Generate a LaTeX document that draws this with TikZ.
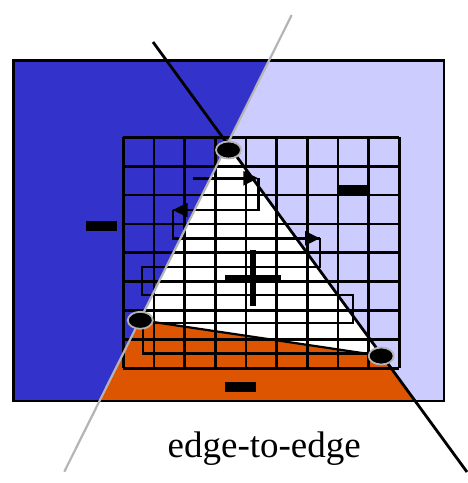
\documentclass[tikz,border=0pt]{standalone}
\usepackage{fontspec}
\setmainfont{Liberation Serif}
\usetikzlibrary{arrows.meta,shapes.geometric}
\definecolor{darkblue}{HTML}{3333CC}
\definecolor{lightblue}{HTML}{CCCCFF}
\definecolor{orng}{HTML}{DD5500}
\definecolor{vgray}{HTML}{B4B4B4}
\begin{document}
\begin{tikzpicture}[x=1pt,y=-1pt,
  gridline/.style={line width=2.8pt,black},
  traverse/.style={line width=2.4pt,black},
  arrowed/.style={traverse,-{Triangle[length=15pt,width=14pt]}},
  bar/.style={fill=black},
  vmark/.style={ellipse,fill=black,draw=vgray,line width=1.8pt,minimum width=25pt,minimum height=17pt,inner sep=0pt},
  label/.style={font=\fontsize{37}{40}\selectfont,anchor=base}]
\useasboundingbox (0,0) rectangle (468,483);
% key points
\coordinate (G1) at (291.7,15);
\coordinate (G2) at (64.3,471.7);
\coordinate (B1) at (153,42);
\coordinate (B2) at (467,472);
\coordinate (T) at (227.6,144.1);
\coordinate (L) at (139.8,320);
\coordinate (R) at (382.3,356);
% regions
\fill[lightblue] (13.3,60.7) rectangle (444,401);
\fill[darkblue] (13.3,60.7) -- (268.9,60.7) -- (99.5,401) -- (13.3,401) -- cycle;
\fill[white] (T) -- (R) -- (L) -- cycle;
\fill[orng] (L) -- (R) -- (415.2,401) -- (99.5,401) -- cycle;
% grid
\foreach \i in {0,...,9}
  \draw[gridline] ({123.3+30.667*\i},137.3) -- ({123.3+30.667*\i},368.3);
\foreach \j in {0,...,8}
  \draw[gridline] (123.3,{137.3+28.875*\j}) -- (399.3,{137.3+28.875*\j});
% outer frame
\draw[line width=2.8pt] (13.3,60.7) rectangle (444,401);
% signs
\fill[bar] (86,221) rectangle (117,231);
\fill[bar] (338,185) rectangle (369,195);
\fill[bar] (225,382) rectangle (256,392);
\fill[bar] (225,274.5) rectangle (281,282);
\fill[bar] (249.5,249.5) rectangle (256,305.5);
% traversal path
\coordinate (P0) at (193.3,178.3);
\coordinate (P1) at (258.3,178.3);
\coordinate (P2) at (258.3,210);
\coordinate (P3) at (172.7,210);
\coordinate (P4) at (172.7,238.3);
\coordinate (P5) at (320,238.3);
\coordinate (P6) at (320,266.7);
\coordinate (P7) at (141.7,266.7);
\coordinate (P8) at (141.7,295);
\coordinate (P9) at (352.7,295);
\coordinate (P10) at (352.7,323);
\coordinate (P11) at (143,323);
\coordinate (P12) at (143,353.3);
\coordinate (P13) at (372,353.3);
\draw[arrowed] (P0) -- (P1);
\draw[traverse] (P1) -- (P2) -- (P3);
\draw[arrowed] (P2) -- (P3);
\draw[traverse] (P3) -- (P4) -- (P5);
\draw[arrowed] (P4) -- (P5);
\draw[traverse,line join=miter] (P5) -- (P6) -- (P7) -- (P8) -- (P9) -- (P10) -- (P11) -- (P12) -- (P13);
% edge lines
\draw[vgray,line width=2.2pt] (G1) -- (G2);
\draw[black,line width=2.8pt] (B1) -- (B2);
\draw[black,line width=2.2pt] (L) -- (R);
% vertex markers
\node[vmark] (vt) at (228.5,150) {};
\node[vmark] (vl) at (140.3,320.3) {};
\node[vmark] (vr) at (381.2,356) {};
% caption
\node[label] (cap) at (264.2,457.3) {edge-to-edge};
\end{tikzpicture}
\end{document}
